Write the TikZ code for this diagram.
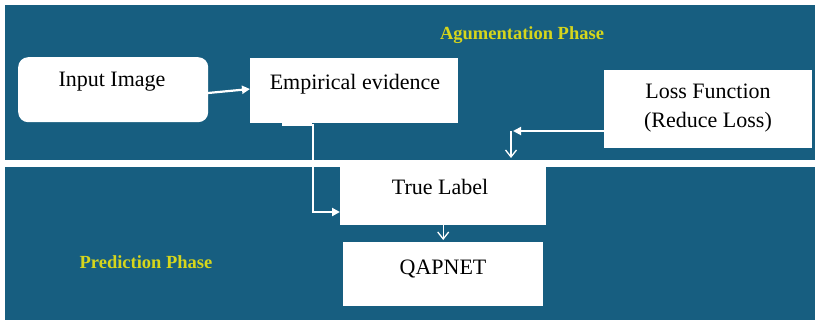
\documentclass[tikz,border=0pt]{standalone}
\usepackage{fontspec}
\setmainfont{Liberation Serif}
\usetikzlibrary{arrows.meta}
\definecolor{panelblue}{HTML}{175E80}
\definecolor{phaseyellow}{RGB}{214,214,28}
\begin{document}
\begin{tikzpicture}[x=1pt,y=-1pt,
  box/.style={fill=white, draw=none, anchor=north west, inner sep=0pt},
  boxtext/.style={font=\fontsize{22}{29}\selectfont, text=black, inner sep=0pt},
  phase/.style={font=\bfseries\fontsize{18.5}{22}\selectfont, text=phaseyellow, inner sep=0pt},
  flow/.style={draw=white, line width=2.2pt, -{Triangle[length=8pt,width=8pt]}},
  flowopen/.style={draw=white, line width=1.3pt, -{Straight Barb[length=7pt,width=11pt]}}]

% canvas and the two phase panels
\useasboundingbox (0,0) rectangle (818,325);
\fill[white] (0,0) rectangle (818,325);
\fill[panelblue] (5,5) rectangle (815,160);
\fill[panelblue] (5,167) rectangle (815,320);

% blocks
\node[box, rounded corners=10pt, minimum width=190pt, minimum height=65pt] (inimg) at (18,57) {};
\node[boxtext] (inimgtxt) at (112,82) {Input Image};

\node[box, minimum width=208pt, minimum height=65pt] (emp) at (250,58) {};
\fill[white] (282,122) rectangle (312,126);
\node[boxtext] (emptxt) at (355,84) {Empirical evidence};

\node[box, minimum width=208pt, minimum height=78pt] (loss) at (604,70) {};
\node[boxtext, align=center] (losstxt) at (708,108) {Loss Function\\(Reduce Loss)};

\node[box, minimum width=206pt, minimum height=58pt] (tl) at (340,167) {};
\node[boxtext] (tltxt) at (440,187) {True Label};

\node[box, minimum width=200pt, minimum height=64pt] (qap) at (343,242) {};
\node[boxtext] (qaptxt) at (443,269) {QAPNET};

% phase titles
\node[phase] (aug) at (522,35) {Agumentation Phase};
\node[phase] (pred) at (146,262) {Prediction Phase};

% connector helper points
\coordinate (inout) at (208,93);
\coordinate (empin) at (250,89);
\coordinate (drop) at (313,124);
\coordinate (elbow) at (313,212);
\coordinate (lossout) at (604,131);
\coordinate (bend) at (511,131);
\coordinate (tlin) at (511,158);

% connectors
\draw[flow] (inout) -- (empin);
\draw[flow] (drop) -- (elbow) -- (tl.west |- elbow);
\draw[flow, line width=1.8pt] (lossout) -- ([xshift=2pt]bend);
\draw[flowopen] (bend) -- (tlin);
\draw[flowopen, shorten >=2pt] (tl.south) -- (qap.north);
\end{tikzpicture}
\end{document}
